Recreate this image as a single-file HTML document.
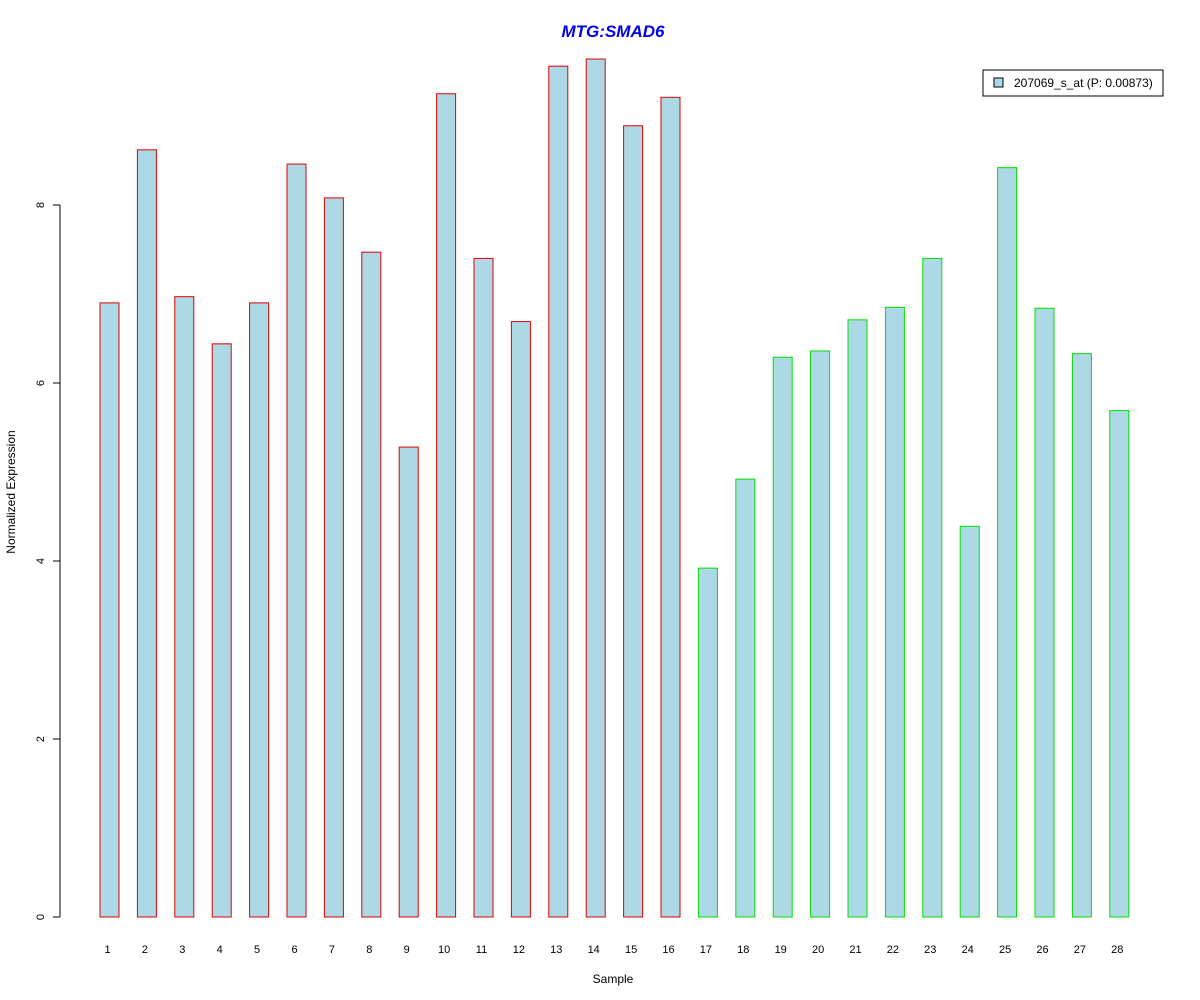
<!DOCTYPE html>
<html><head><meta charset="utf-8"><style>
body{margin:0;background:#fff}
svg{display:block;font-family:"Liberation Sans",Arial,sans-serif}
</style></head><body>
<svg id="chart" width="1200" height="1000">
<text x="613" y="37" text-anchor="middle" font-size="17" font-weight="bold" font-style="italic" fill="#0000ee">MTG:SMAD6</text>
<text x="613" y="983" text-anchor="middle" font-size="12">Sample</text>
<text transform="translate(15,492) rotate(-90)" text-anchor="middle" font-size="12">Normalized Expression</text>
<g id="yaxis"></g>
<g id="bars"></g>
<g id="xlabels"></g>
<g>
<rect x="983" y="70" width="180" height="26" fill="#fff" stroke="#000"/>
<rect x="994" y="78" width="9" height="9" fill="#add8e6" stroke="#000"/>
<text x="1014" y="87" font-size="12">207069_s_at (P: 0.00873)</text>
</g>
</svg>
<script>
const categories=["1","2","3","4","5","6","7","8","9","10","11","12","13","14","15","16","17","18","19","20","21","22","23","24","25","26","27","28"];
const values=[6.90,8.62,6.97,6.44,6.90,8.46,8.08,7.47,5.28,9.25,7.40,6.69,9.56,9.64,8.89,9.21,3.92,4.92,6.29,6.36,6.71,6.85,7.40,4.39,8.42,6.84,6.33,5.69];
const groups=["red","red","red","red","red","red","red","red","red","red","red","red","red","red","red","red","green","green","green","green","green","green","green","green","green","green","green","green"];
const yTicks=[0,2,4,6,8];
const NS="http://www.w3.org/2000/svg";
const y=v=>917-v*89;
const x=i=>100+i*37.4;
const bw=19;
function mk(t,a,p){const e=document.createElementNS(NS,t);for(const k in a)e.setAttribute(k,a[k]);p.appendChild(e);return e;}
const ya=document.getElementById('yaxis');
const axl=mk('line',{x1:60,x2:60,y1:y(yTicks[yTicks.length-1]),y2:y(yTicks[0]),stroke:'#000'},ya);


yTicks.forEach(t=>{
  const l=mk('line',{x1:53,x2:60,y1:y(t),y2:y(t),stroke:'#000'},ya);
  
  
  const tx=mk('text',{transform:`translate(44,${y(t)}) rotate(-90)`,'text-anchor':'middle','font-size':11},ya);
  tx.textContent=t;
  
  
});
const bg=document.getElementById('bars'),xl=document.getElementById('xlabels');
values.forEach((v,i)=>{
  const r=mk('rect',{x:x(i),y:y(v),width:bw,height:y(0)-y(v),fill:'#add8e6',stroke:groups[i]==='red'?'#e00000':'#00e000'},bg);
  
  
  const t=mk('text',{x:x(i)+bw/2-2,y:953,'text-anchor':'middle','font-size':11},xl);
  t.textContent=categories[i];
  
  
});
</script>
</body></html>
